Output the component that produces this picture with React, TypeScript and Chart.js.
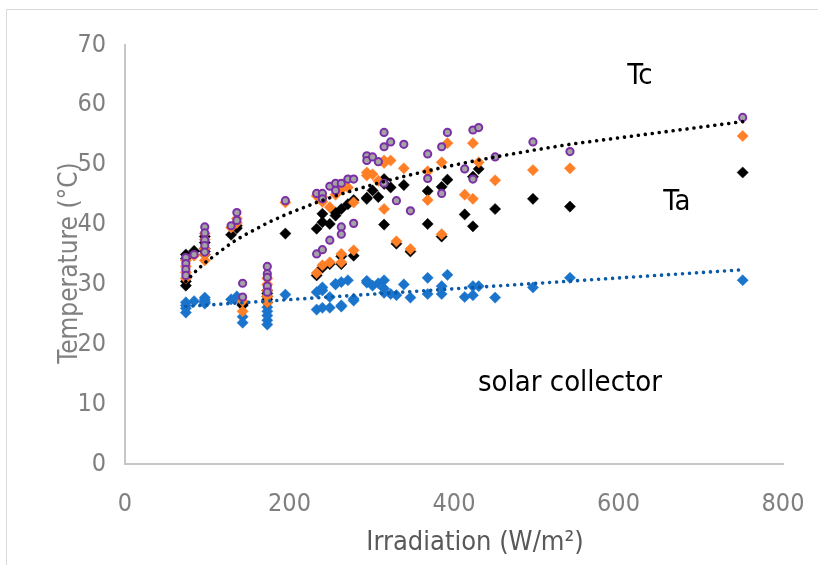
import React, { useEffect, useRef } from 'react';
import { Chart, registerables } from 'chart.js';

Chart.register(...registerables);

// ---- data ----
const irradiance = [74, 74, 74, 74, 84, 97, 97, 97, 97, 97, 129, 136, 136, 143, 143, 173, 173, 173, 173, 173, 195, 233, 233, 240, 240, 240, 249, 249, 256, 256, 263, 263, 263, 271, 278, 278, 294, 294, 301, 308, 315, 315, 315, 323, 330, 339, 347, 368, 368, 385, 385, 392, 413, 423, 423, 430, 450, 496, 541, 751];
const tcTemps = [34.5, 33.5, 32.5, 31.5, 35.0, 39.6, 38.6, 37.4, 36.5, 35.4, 39.8, 40.7, 42.0, 30.2, 27.9, 33.0, 31.8, 31.2, 29.7, 28.7, 44.0, 45.2, 35.1, 45.2, 44.3, 35.8, 46.4, 37.4, 46.9, 45.7, 46.9, 39.6, 38.4, 47.6, 47.6, 40.2, 51.5, 50.7, 51.3, 50.5, 55.4, 53.0, 46.9, 53.8, 44.0, 53.4, 42.3, 51.8, 47.7, 53.0, 45.2, 55.4, 49.3, 55.8, 47.6, 56.2, 51.3, 53.8, 52.2, 57.9];
const tpTemps = [34.0, 33.0, 32.0, 31.0, 34.8, 38.5, 37.5, 36.0, 35.0, 34.0, 39.5, 40.3, 41.0, 27.2, 25.5, 31.0, 30.0, 29.0, 28.0, 27.0, 43.7, 44.8, 31.9, 44.6, 43.8, 33.2, 42.9, 33.7, 46.0, 45.0, 45.9, 35.1, 33.7, 46.2, 43.7, 35.7, 48.7, 48.2, 48.4, 47.3, 50.7, 50.3, 42.6, 50.7, 37.2, 49.4, 35.9, 48.9, 44.1, 50.4, 38.4, 53.6, 45.0, 53.6, 44.3, 50.4, 47.4, 49.1, 49.4, 54.8];
const taTemps = [35.0, 34.3, 30.5, 29.8, 35.6, 38.0, 37.0, 36.0, 35.5, 35.0, 38.3, 39.4, 39.8, 26.7, 26.5, 29.0, 28.5, 28.0, 27.5, 27.0, 38.5, 39.3, 31.5, 41.8, 40.4, 32.8, 40.1, 33.4, 42.0, 41.5, 42.6, 34.7, 33.4, 43.4, 44.1, 34.8, 44.3, 44.5, 45.7, 44.6, 47.6, 46.8, 40.0, 46.2, 36.8, 46.6, 35.5, 45.6, 40.1, 46.3, 38.0, 47.5, 41.7, 48.0, 39.7, 49.3, 42.6, 44.3, 43.0, 48.7];
const collectorTemps = [27.0, 26.5, 26.0, 25.3, 27.2, 27.8, 27.5, 27.2, 27.0, 26.8, 27.5, 27.8, 28.0, 24.6, 23.6, 26.2, 25.5, 24.8, 24.0, 23.3, 28.3, 28.7, 25.8, 29.5, 26.1, 29.0, 27.9, 26.1, 30.1, 30.0, 30.4, 26.3, 26.5, 30.7, 27.6, 27.3, 30.6, 30.3, 29.8, 30.2, 30.7, 29.3, 28.6, 28.4, 28.2, 30.0, 27.8, 31.1, 28.4, 29.7, 28.4, 31.6, 27.9, 29.7, 28.2, 29.7, 27.8, 29.5, 31.1, 30.7];

const xTickValues = [0, 200, 400, 600, 800];
const yTickValues = [0, 10, 20, 30, 40, 50, 60, 70];

const seriesLabels = [
  { text: 'Tc', x: 626, y: 64.8 },
  { text: 'Ta', x: 671, y: 43.7 },
  { text: 'solar collector', x: 541, y: 13.5 },
];

const xTitle = 'Irradiation (W/m²)';
const yTitle = 'Temperature (°C)';

// ---- helpers ----
const pts = (ys: number[]) => irradiance.map((x, i) => ({ x, y: ys[i] }));
const uniqueX = Array.from(new Set(irradiance)).sort((a, b) => a - b);

function logFit(ys: number[]) {
  const n = irradiance.length;
  let sx = 0, sy = 0, sxx = 0, sxy = 0;
  for (let i = 0; i < n; i++) {
    const lx = Math.log(irradiance[i]);
    sx += lx; sy += ys[i]; sxx += lx * lx; sxy += lx * ys[i];
  }
  const b = (n * sxy - sx * sy) / (n * sxx - sx * sx);
  const a = (sy - b * sx) / n;
  return uniqueX.map((x) => ({ x, y: a + b * Math.log(x) }));
}
function linFit(ys: number[]) {
  const n = irradiance.length;
  let sx = 0, sy = 0, sxx = 0, sxy = 0;
  for (let i = 0; i < n; i++) {
    const x = irradiance[i];
    sx += x; sy += ys[i]; sxx += x * x; sxy += x * ys[i];
  }
  const b = (n * sxy - sx * sy) / (n * sxx - sx * sx);
  const a = (sy - b * sx) / n;
  return uniqueX.map((x) => ({ x, y: a + b * x }));
}

const FONT = "'Liberation Sans Narrow', 'Arial Narrow', 'DejaVu Sans Condensed', 'Liberation Sans', sans-serif";

const overlay = {
  id: 'overlay',
  beforeDraw(chart: any) {
    const { ctx, width, height } = chart;
    ctx.save();
    ctx.fillStyle = '#ffffff';
    ctx.fillRect(0, 0, width, height);
    ctx.strokeStyle = '#d9d9d9';
    ctx.lineWidth = 1;
    ctx.beginPath();
    ctx.moveTo(6.5, height);
    ctx.lineTo(6.5, 9.5);
    ctx.lineTo(width, 9.5);
    ctx.stroke();
    ctx.restore();
  },
  afterDraw(chart: any) {
    const { ctx } = chart;
    const xs = chart.scales.x;
    const ys = chart.scales.y;
    ctx.save();
    ctx.fillStyle = '#000000';
    ctx.font = `29px ${FONT}`;
    ctx.textAlign = 'center';
    ctx.textBaseline = 'middle';
    for (const l of seriesLabels) {
      ctx.fillText(l.text, xs.getPixelForValue(l.x), ys.getPixelForValue(l.y));
    }
    // axis titles
    ctx.fillStyle = '#595959';
    ctx.font = `27px ${FONT}`;
    ctx.fillText(xTitle, 475, 543);
    ctx.fillStyle = '#808080';
    ctx.font = `26px ${FONT}`;
    ctx.translate(70, 263);
    ctx.rotate(-Math.PI / 2);
    ctx.fillText(yTitle, 0, 0);
    ctx.restore();
  },
};

export default function App() {
  const ref = useRef<HTMLCanvasElement | null>(null);
  useEffect(() => {
    if (!ref.current) return;
    const diamond = (color: string, order: number, data: any[]) => ({
      type: 'scatter' as const,
      data,
      order,
      pointStyle: 'rectRot',
      pointRadius: 5.6,
      pointBackgroundColor: color,
      pointBorderColor: color,
      pointBorderWidth: 0.5,
      showLine: false,
    });
    const chart = new Chart(ref.current, {
      type: 'scatter',
      data: {
        datasets: [
          {
            type: 'line',
            data: logFit(tcTemps),
            order: -2,
            borderColor: '#000000',
            borderWidth: 3.6,
            borderDash: [0.01, 7],
            borderCapStyle: 'round',
            pointRadius: 0,
            tension: 0,
            fill: false,
          } as any,
          {
            type: 'line',
            data: linFit(collectorTemps),
            order: -1,
            borderColor: '#0b5aa8',
            borderWidth: 3.6,
            borderDash: [0.01, 7],
            borderCapStyle: 'round',
            pointRadius: 0,
            tension: 0,
            fill: false,
          } as any,
          {
            type: 'scatter',
            data: pts(tcTemps),
            order: 0,
            pointStyle: 'circle',
            pointRadius: 3.6,
            pointBackgroundColor: '#a3a3a3',
            pointBorderColor: '#7b2fa6',
            pointBorderWidth: 2,
          } as any,
          diamond('#ff7f27', 1, pts(tpTemps)) as any,
          diamond('#000000', 2, pts(taTemps)) as any,
          diamond('#1b74cc', 3, pts(collectorTemps)) as any,
        ],
      },
      options: {
        animation: false,
        responsive: false,
        devicePixelRatio: 1,
        layout: { padding: { left: 0, top: 45, right: 35, bottom: 0 } },
        plugins: { legend: { display: false }, tooltip: { enabled: false } },
        scales: {
          x: {
            type: 'linear',
            min: 0,
            max: 800,
            afterBuildTicks: (s: any) => { s.ticks = xTickValues.map((v) => ({ value: v })); },
            afterFit: (s: any) => { s.height = 101; s.paddingLeft = 0; s.paddingRight = 0; },
            grid: { display: false, drawTicks: false },
            border: { display: true, color: '#c6c6c6', width: 2 },
            ticks: { color: '#7f7f7f', font: { family: FONT, size: 25 }, padding: 25, maxRotation: 0 },
          },
          y: {
            type: 'linear',
            min: 0,
            max: 70,
            afterBuildTicks: (s: any) => { s.ticks = yTickValues.map((v) => ({ value: v })); },
            afterFit: (s: any) => { s.width = 125; s.paddingTop = 0; s.paddingBottom = 0; },
            grid: { display: false, drawTicks: false },
            border: { display: true, color: '#c6c6c6', width: 2 },
            ticks: { color: '#7f7f7f', font: { family: FONT, size: 25 }, padding: 19 },
          },
        },
      },
      plugins: [overlay],
    } as any);
    return () => chart.destroy();
  }, []);
  return (
    <div style={{ position: 'absolute', left: 0, top: 0, width: 818, height: 565 }}>
      <canvas ref={ref} width={818} height={565} style={{ width: 818, height: 565, display: 'block' }} />
    </div>
  );
}
